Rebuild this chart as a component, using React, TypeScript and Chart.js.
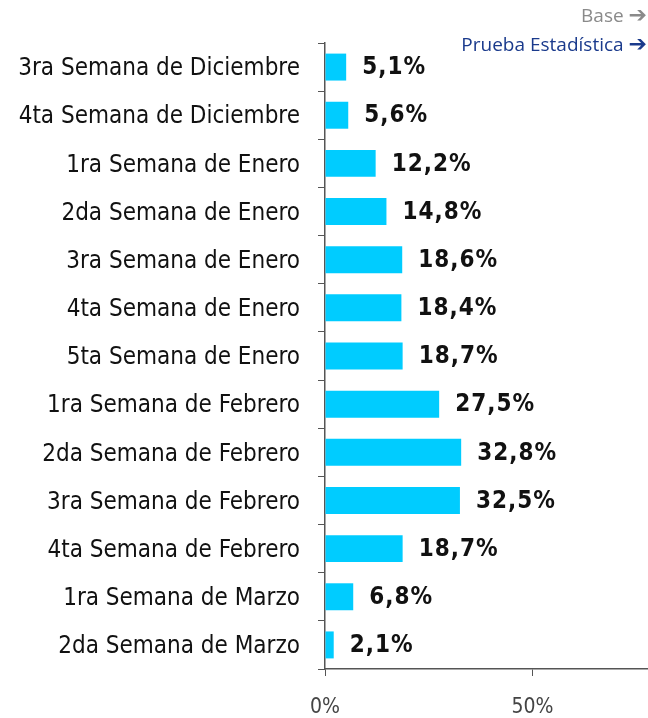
import React, { useEffect, useRef } from "react";
import { Chart, registerables } from "chart.js";

Chart.register(...registerables);

const categories = [
  "3ra Semana de Diciembre",
  "4ta Semana de Diciembre",
  "1ra Semana de Enero",
  "2da Semana de Enero",
  "3ra Semana de Enero",
  "4ta Semana de Enero",
  "5ta Semana de Enero",
  "1ra Semana de Febrero",
  "2da Semana de Febrero",
  "3ra Semana de Febrero",
  "4ta Semana de Febrero",
  "1ra Semana de Marzo",
  "2da Semana de Marzo",
];
const values = [5.1, 5.6, 12.2, 14.8, 18.6, 18.4, 18.7, 27.5, 32.8, 32.5, 18.7, 6.8, 2.1];
const xTicks = [0, 50];
const xMax = 77.8;

const LABEL_FONT = "'DejaVu Sans Condensed', 'DejaVu Sans', sans-serif";

const valueLabels = {
  id: "valueLabels",
  afterDatasetsDraw(chart: any) {
    const ctx = chart.ctx;
    const meta = chart.getDatasetMeta(0);
    ctx.save();
    ctx.font = "bold 24px 'DejaVu Sans Condensed', 'DejaVu Sans', sans-serif";
    try {
      (ctx as any).letterSpacing = "1px";
    } catch (e) {}
    ctx.fillStyle = "#111111";
    ctx.textAlign = "left";
    ctx.textBaseline = "middle";
    meta.data.forEach((bar: any, i: number) => {
      const txt = values[i].toFixed(1).replace(".", ",") + "%";
      ctx.fillText(txt, bar.x + 16, bar.y + 1);
    });
    ctx.restore();
  },
};

export default function App() {
  const ref = useRef<HTMLCanvasElement | null>(null);
  useEffect(() => {
    if (!ref.current) return;
    const chart = new Chart(ref.current, {
      type: "bar",
      data: {
        labels: categories,
        datasets: [
          {
            data: values,
            backgroundColor: "#00CCFF",
            borderWidth: 0,
            categoryPercentage: 0.56,
            barPercentage: 1,
          },
        ],
      },
      options: {
        indexAxis: "y",
        animation: false,
        responsive: false,
        maintainAspectRatio: false,
        layout: { padding: { top: 43, right: 0, left: 0, bottom: 0 } },
        plugins: { legend: { display: false }, tooltip: { enabled: false } },
        scales: {
          x: {
            min: 0,
            max: xMax,
            afterFit: (s: any) => {
              s.height = 49;
            },
            afterBuildTicks: (s: any) => {
              s.ticks = xTicks.map((v) => ({ value: v }));
            },
            grid: {
              drawOnChartArea: false,
              drawTicks: true,
              tickLength: 7,
              color: "#555555",
            },
            border: { display: true, color: "#555555", width: 1.5 },
            ticks: {
              callback: (v: any) => v + "%",
              font: { family: LABEL_FONT, size: 21 },
              color: "#444444",
              padding: 19,
              maxRotation: 0,
            },
          },
          y: {
            afterFit: (s: any) => {
              s.width = 325;
            },
            grid: {
              drawOnChartArea: false,
              drawTicks: true,
              tickLength: 7,
              color: "#555555",
              offset: true,
            },
            border: { display: true, color: "#555555", width: 1.5 },
            ticks: {
              font: { family: LABEL_FONT, size: 24 },
              color: "#111111",
              padding: 18,
              labelOffset: 2,
              autoSkip: false,
            },
          },
        },
      },
      plugins: [valueLabels],
    });
    return () => chart.destroy();
  }, []);

  const legendStyle: React.CSSProperties = {
    position: "absolute",
    right: 1,
    fontFamily: "'Open Sans', sans-serif",
    fontSize: 19,
    textAlign: "right",
    lineHeight: "24px",
    whiteSpace: "nowrap",
  };
  const arrowStyle: React.CSSProperties = {
    fontFamily: "'DejaVu Sans', sans-serif",
    fontSize: 22,
    fontWeight: "bold",
  };

  return (
    <div style={{ position: "absolute", left: 0, top: 0, width: 648, height: 718, background: "#fff" }}>
      <canvas ref={ref} width={648} height={718} style={{ display: "block" }} />
      <div style={{ ...legendStyle, top: 3, color: "#8A8A8A" }}>
        Base <span style={arrowStyle}>➔</span>
      </div>
      <div style={{ ...legendStyle, top: 32, color: "#1A3A8C" }}>
        Prueba Estadística <span style={arrowStyle}>➔</span>
      </div>
    </div>
  );
}
